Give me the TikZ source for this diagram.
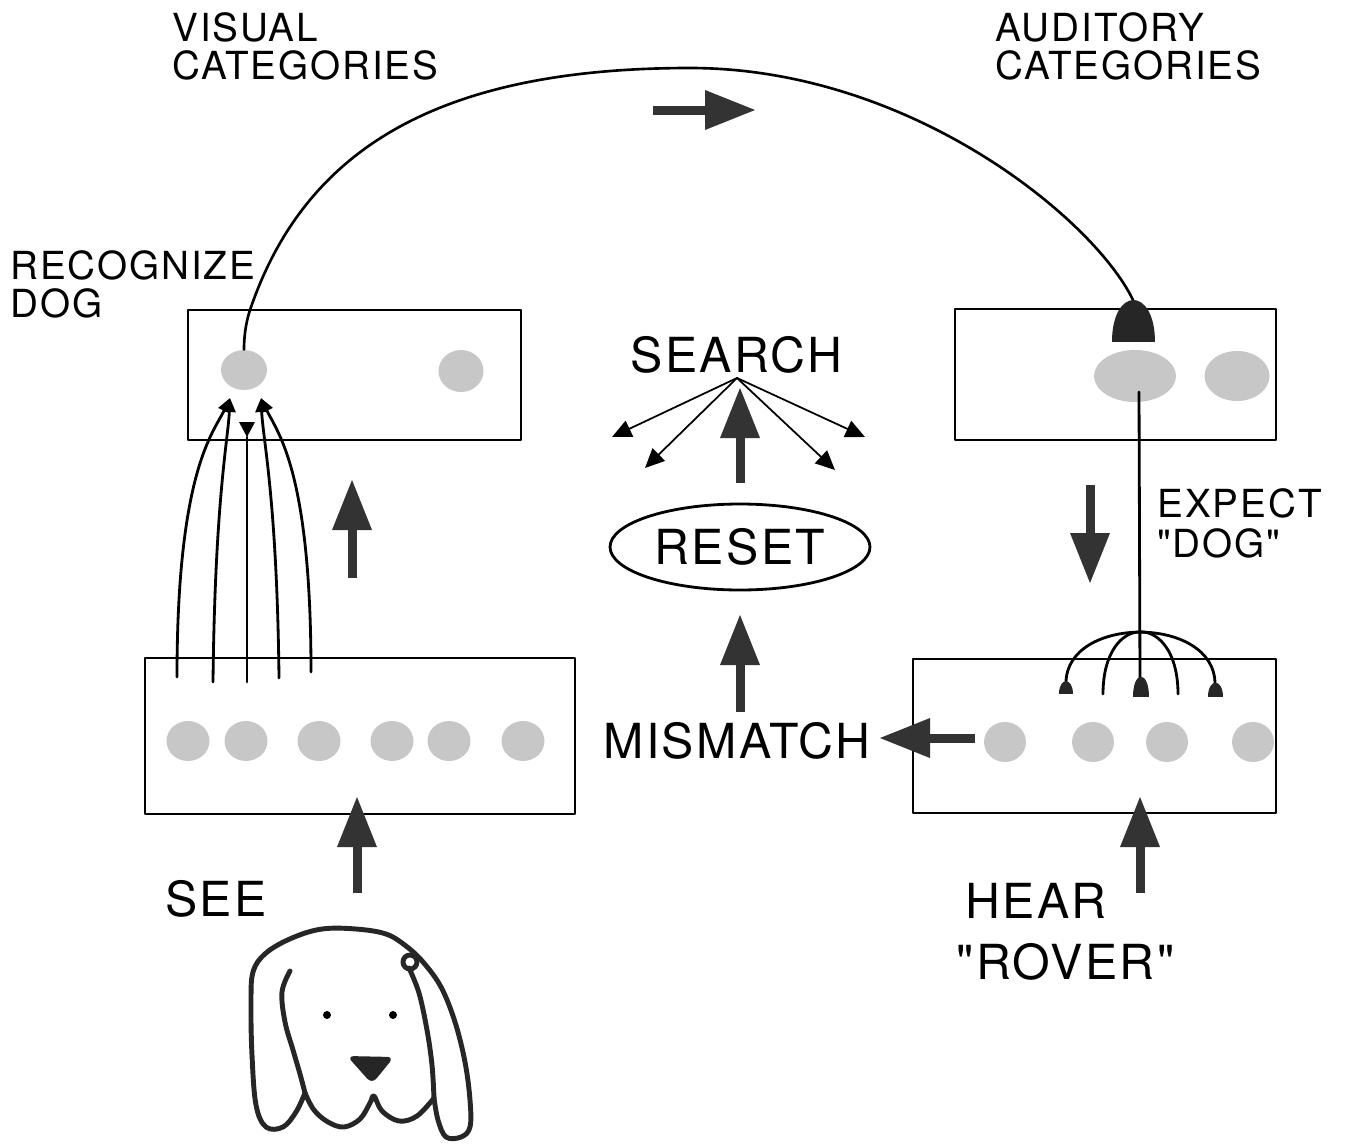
\documentclass[tikz,border=0pt]{standalone}
\usepackage{fontspec}
\setmainfont{TeX Gyre Heros}[Ligatures=TeXOff,LetterSpace=5]
\usetikzlibrary{arrows.meta,shapes.geometric}

\tikzset{
  arrowfill/.style={fill=black!80},
  knobfill/.style={fill=black!85},
  % fat block arrow pointing along +x, #1 = length tail to tip
  pics/fatarrow/.style={code={
    \fill[arrowfill] (0,-4.5) rectangle (#1-48,4.5);
    \fill[arrowfill] (#1-50,-20) -- (#1,0) -- (#1-50,20) -- cycle;
  }},
  % synaptic knob, #1 = half width, #2 = height
  pics/knob/.style n args={2}{code={
    \fill[knobfill] (-#1,0) .. controls (-#1,-4/3*#2) and (#1,-4/3*#2) .. (#1,0) -- cycle;
  }},
}

\begin{document}
\begin{tikzpicture}[x=0.02cm,y=-0.02cm,line cap=round,line join=round,
  box/.style={draw,line width=1.6pt,inner sep=0pt},
  blob/.style={ellipse,fill=black!22,inner sep=0pt},
  wire/.style={line width=1.6pt},
  thinwire/.style={line width=1pt},
  lbl/.style={inner sep=0pt,anchor=north west,align=left},
  smalltxt/.style={lbl,font=\fontsize{22}{21.6}\selectfont},
  midtxt/.style={lbl,font=\fontsize{22}{22.8}\selectfont},
  bigtxt/.style={lbl,font=\fontsize{27.5}{34.7}\selectfont},
  dogline/.style={line width=2.8pt,draw=black!85}]
\useasboundingbox (0,0) rectangle (1352,1143);

% the four fields
\node[box,minimum width=6.66cm,minimum height=2.6cm] (vcat) at (354.5,375) {};
\node[box,minimum width=8.6cm,minimum height=3.12cm] (vin) at (360,736) {};
\node[box,minimum width=6.42cm,minimum height=2.62cm] (acat) at (1115.5,374.5) {};
\node[box,minimum width=7.26cm,minimum height=3.08cm] (ain) at (1094.5,736) {};

% activity blobs
\node[blob,minimum width=0.92cm,minimum height=0.8cm] (vc1) at (244,370) {};
\node[blob,minimum width=0.9cm,minimum height=0.84cm] (vc2) at (461,371) {};
\foreach \x [count=\i] in {188,246,319,392,449,523}
  \node[blob,minimum width=0.86cm,minimum height=0.8cm] (vi\i) at (\x,741) {};
\node[blob,minimum width=1.64cm,minimum height=1.04cm] (ac1) at (1135,376) {};
\node[blob,minimum width=1.3cm,minimum height=1.0cm] (ac2) at (1237,376) {};
\foreach \x [count=\i] in {1005,1093,1167,1253}
  \node[blob,minimum width=0.84cm,minimum height=0.8cm] (ai\i) at (\x,742) {};

% labels
\node[smalltxt] (vislbl) at (172,12) {VISUAL\\CATEGORIES};
\node[smalltxt] (audlbl) at (995,12) {AUDITORY\\CATEGORIES};
\node[smalltxt] (reclbl) at (10,250) {RECOGNIZE\\DOG};
\node[bigtxt] (searchlbl) at (630,336) {SEARCH};
\node[bigtxt] (mislbl) at (603,722) {MISMATCH};
\node[bigtxt] (seelbl) at (165,880) {SEE};
\node[bigtxt] (hearlbl) at (965,883) {HEAR\\\hspace*{-5pt}"ROVER"};
\node[midtxt] (explbl) at (1157,488) {EXPECT\\"DOG"};
\node[draw,ellipse,line width=1.6pt,minimum width=5.2cm,minimum height=1.72cm,
  inner sep=0pt,font=\fontsize{27.5}{30}\selectfont] (reset) at (740,547) {RESET};

% learned association between the categories
\coordinate (aknob) at (1133,300);
\draw[line width=1.5pt] (vc1.north) .. controls (244,340) and (245,325) .. (250,310)
  .. controls (305,148) and (440,68) .. (690,68)
  .. controls (910,68) and (1094,219) .. (aknob);
\pic at (1133.5,342) {knob={21.5}{42}};

% bottom-up fan into the visual category
\coordinate (tipL) at (230,398);
\coordinate (tipR) at (261,398);
\coordinate (tipM) at (247,437);
\begin{scope}[wire,-{Triangle[length=8pt,width=7pt]}]
\draw (177,677) .. controls (177,470) and (214,432) .. (tipL);
\draw (213,682) .. controls (215,500) and (228,440) .. (tipL);
\draw (279,678) .. controls (277,500) and (263,440) .. (tipR);
\draw (311,672) .. controls (311,470) and (277,432) .. (tipR);
\end{scope}
\draw[wire] (247,682) -- (tipM);
\fill (239,422) -- (255,422) -- (tipM) -- cycle;

% top-down expectation from the auditory category
\coordinate (expfrom) at (1139,392);
\coordinate (expto) at (1140,680);
\draw[wire] (expfrom) -- (expto);
\draw[wire] (1066,683) .. controls (1066,615) and (1215,615) .. (1215,684);
\draw[wire] (1103,694) .. controls (1103,611) and (1178,611) .. (1178,694);
\pic at (1066,694) {knob={7}{13}};
\pic at (1141,697) {knob={8}{20}};
\pic at (1215.5,697) {knob={7.5}{14}};

% search spreading out from the reset
\coordinate (hub) at (737,378);
\begin{scope}[thinwire,-{Triangle[length=11pt,width=10pt]}]
\draw (hub) -- (612,437);
\draw (hub) -- (645,468);
\draw (hub) -- (835,470);
\draw (hub) -- (865,437);
\end{scope}

% block arrows
\pic at (653,110) {fatarrow=102};
\pic[rotate=90] at (352,578) {fatarrow=98};
\pic[rotate=90] at (357,893) {fatarrow=96};
\pic[rotate=90] at (1140,893) {fatarrow=96};
\pic[rotate=-90] at (1090,485) {fatarrow=98};
\pic[rotate=180] at (975,738) {fatarrow=95};
\pic[rotate=90] at (740,712) {fatarrow=97};
\pic[rotate=90] at (740,483) {fatarrow=95};

% the dog
\draw[dogline] plot[smooth,tension=0.6] coordinates {(305,1093) (296,1112) (283,1127)
  (266,1127) (256,1105) (252,1055) (251,1005) (253,972) (266,953) (292,938) (322,929)
  (356,929) (386,934) (406,946) (423,962) (441,987) (455,1022) (465,1062) (470,1100)
  (470,1127) (461,1137) (446,1137) (438,1120) (434,1098)};
\draw[dogline] plot[smooth,tension=0.6] coordinates {(305,1093) (314,1110) (328,1122)
  (344,1127) (360,1119) (370,1103) (374,1096) (382,1111) (399,1121) (417,1116) (434,1098)};
\draw[dogline] plot[smooth,tension=0.6] coordinates {(290,971) (282,992) (285,1022)
  (293,1050) (300,1074) (305,1093)};
\draw[dogline] plot[smooth,tension=0.6] coordinates {(409,968) (419,993) (427,1030)
  (432,1065) (434,1098)};
\draw[dogline] (410,962) circle (7);
\fill (327,1015) circle (4);
\fill (393,1015) circle (4);
\fill[black!85,rounded corners=4pt] (347,1056) -- (394,1057) -- (372,1084) -- cycle;
\end{tikzpicture}
\end{document}
